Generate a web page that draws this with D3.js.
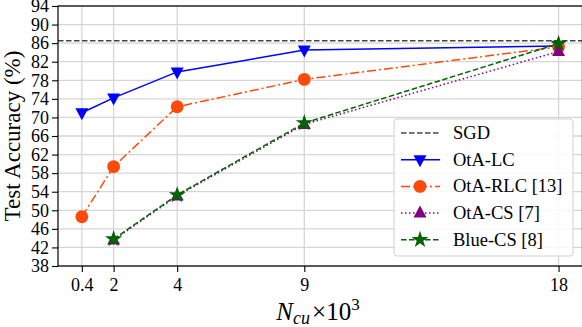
<!DOCTYPE html>
<meta charset="utf-8">
<style>
body { margin: 0; background: #fff; }
svg text { font-family: "Liberation Serif", "Times New Roman", serif; fill: #000; }
.grid line { stroke: #d6d6d6; stroke-width: 1.3px; }
.axis text { font-size: 18px; }
.axis path, .axis line { stroke: #000; stroke-width: 1.1px; }
.series path.line { fill: none; stroke-width: 1.5px; }
</style>
<body>
<svg width="582" height="327"></svg>
<script src="https://cdn.jsdelivr.net/npm/d3@7"></script>
<script>

// x positions are evenly doubled on the plot, tick labels carry the real values
let xPos = [1, 2, 4, 8, 16];
let xLabels = ['0.4', '2', '4', '9', '18'];
let yTicks = d3.range(38, 95, 4);

let sgd = 86.5;
let otaLC = [71.0, 74.2, 79.8, 84.5, 85.4];
let otaRLC = [48.6, 59.4, 72.3, 78.2, 85.2];
let otaCS = [null, 43.6, 53.1, 68.5, 84.2];
let blueCS = [null, 43.8, 53.3, 68.8, 85.9];

let series = [
  {name: 'OtA-LC', values: otaLC, color: '#0000ff', dash: null, marker: 'tridown'},
  {name: 'OtA-RLC [13]', values: otaRLC, color: '#ff4a0a', dash: '9,3,2,3', marker: 'circle'},
  {name: 'OtA-CS [7]', values: otaCS, color: '#800080', dash: '1.5,2.5', marker: 'triup'},
  {name: 'Blue-CS [8]', values: blueCS, color: '#006400', dash: '5.5,2.5', marker: 'star'}
];

let margin = {left: 58, right: 0, top: 6, bottom: 61};
let W = 582, H = 327;
let svg = d3.select('svg');

let x = d3.scaleLinear().domain([0.25, 16.75]).range([margin.left, 582.4]);
let y = d3.scaleLinear().domain([38, 94]).range([H - margin.bottom, margin.top]);

// grid
let grid = svg.append('g').attr('class', 'grid');
grid.selectAll('.h').data(yTicks).enter().append('line')
  .attr('x1', x.range()[0]).attr('x2', x.range()[1])
  .attr('y1', d => y(d)).attr('y2', d => y(d));
grid.selectAll('.v').data(xPos).enter().append('line')
  .attr('y1', y.range()[0]).attr('y2', y.range()[1])
  .attr('x1', d => x(d)).attr('x2', d => x(d));

// SGD reference
svg.append('line')
  .attr('x1', x.range()[0]).attr('x2', x.range()[1])
  .attr('y1', y(sgd)).attr('y2', y(sgd))
  .attr('stroke', '#444').attr('stroke-width', 1.5)
  .attr('stroke-dasharray', '5.5,2.5');

function markerPath(type) {
  if (type === 'circle') return d3.symbol(d3.symbolCircle, 130)();
  if (type === 'star') return d3.symbol(d3.symbolStar, 90)();
  if (type === 'triup') return 'M0,-7.5L6.5,4.5L-6.5,4.5Z';
  return 'M0,7.5L6.5,-4.5L-6.5,-4.5Z';
}

// series
series.forEach(function(s) {
  let pts = xPos.map((d, i) => [d, s.values[i]]).filter(p => p[1] != null);
  let g = svg.append('g').attr('class', 'series');
  g.append('path').attr('class', 'line')
    .datum(pts)
    .attr('d', d3.line().x(d => x(d[0])).y(d => y(d[1])))
    .attr('stroke', s.color)
    .attr('stroke-dasharray', s.dash);
  g.selectAll('path.m').data(pts).enter().append('path')
    .attr('class', 'm')
    .attr('d', markerPath(s.marker))
    .attr('transform', d => 'translate(' + x(d[0]) + ',' + y(d[1]) + ')')
    .attr('fill', s.color);
});

// axes
let yAxis = d3.axisLeft(y).tickValues(yTicks).tickSize(6).tickPadding(3);
svg.append('g').attr('class', 'axis')
  .attr('transform', 'translate(' + margin.left + ',0)')
  .call(yAxis)
  .call(g => g.attr('font-family', null).select('.domain').remove());

let xAxis = d3.axisBottom(x).tickValues(xPos).tickSize(6).tickPadding(6)
  .tickFormat((d, i) => xLabels[i]);
svg.append('g').attr('class', 'axis')
  .attr('transform', 'translate(0,' + y.range()[0] + ')')
  .call(xAxis)
  .call(g => g.attr('font-family', null).select('.domain').remove());

// frame
svg.append('rect')
  .attr('x', x.range()[0]).attr('y', y.range()[1])
  .attr('width', x.range()[1] - x.range()[0])
  .attr('height', y.range()[0] - y.range()[1])
  .attr('fill', 'none').attr('stroke', '#000').attr('stroke-width', 1.2);

// axis titles
svg.append('text')
  .attr('transform', 'translate(20,' + ((y.range()[0] + y.range()[1]) / 2) + ') rotate(-90)')
  .attr('text-anchor', 'middle')
  .style('font-size', '23px')
  .text('Test Accuracy (%)');

let xl = svg.append('text')
  .attr('x', 318).attr('y', 320)
  .attr('text-anchor', 'middle')
  .style('font-size', '25px');
xl.append('tspan').style('font-style', 'italic').text('N');
xl.append('tspan').style('font-style', 'italic').style('font-size', '18px').attr('dy', 4).text('cu');
xl.append('tspan').attr('dy', -4).attr('dx', 2).text('\u00d710');
xl.append('tspan').style('font-size', '17px').attr('dy', -10).text('3');

// legend
let lg = svg.append('g').attr('transform', 'translate(394,119)');
lg.append('rect')
  .attr('width', 179).attr('height', 137).attr('rx', 3)
  .attr('fill', 'rgba(255,255,255,0.85)')
  .attr('stroke', '#d0d0d0').attr('stroke-width', 1);

let items = [{name: 'SGD', color: '#444', dash: '5.5,2.5', marker: null}].concat(series);
items.forEach(function(s, i) {
  let yy = 14 + i * 26.7;
  lg.append('line')
    .attr('x1', 7).attr('x2', 46).attr('y1', yy).attr('y2', yy)
    .attr('stroke', s.color).attr('stroke-width', 1.5)
    .attr('stroke-dasharray', s.dash);
  if (s.marker) {
    lg.append('path').attr('d', markerPath(s.marker))
      .attr('transform', 'translate(26,' + yy + ')')
      .attr('fill', s.color);
  }
  lg.append('text')
    .attr('x', 59).attr('y', yy + 6)
    .style('font-size', '18.5px')
    .text(s.name);
});

</script>
</body>
